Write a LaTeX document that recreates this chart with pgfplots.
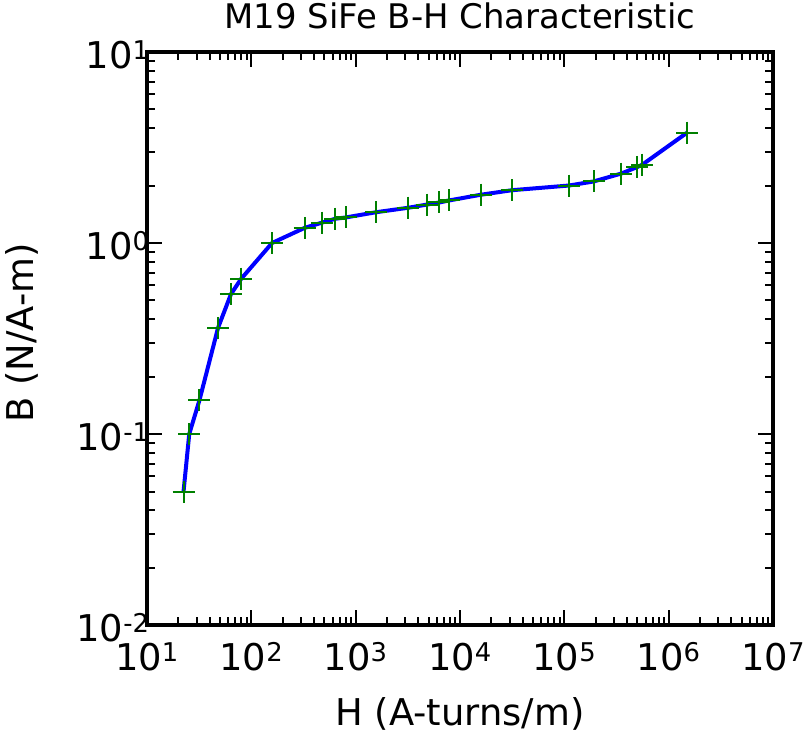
\documentclass[border=0pt]{standalone}
\usepackage{fontspec}
\setmainfont{DejaVu Sans}
\usepackage{pgfplots}
\pgfplotsset{compat=1.18}
\definecolor{mplgreen}{rgb}{0,0.5,0}
\begin{document}
\begin{tikzpicture}
\path[use as bounding box] (0,0) rectangle (804bp,734bp);
\begin{axis}[
  at={(147bp,109bp)}, anchor=south west,
  scale only axis, width=626bp, height=573bp,
  xmode=log, ymode=log,
  xmin=10, xmax=1e7, ymin=0.01, ymax=10,
  axis line style={line width=3.5bp},
  tick align=inside,
  major tick length=15bp, minor tick length=8bp,
  every tick/.style={black, line width=2bp},
  xtick={1e1,1e2,1e3,1e4,1e5,1e6,1e7},
  xticklabels={10\textsuperscript{1},10\textsuperscript{2},10\textsuperscript{3},10\textsuperscript{4},10\textsuperscript{5},10\textsuperscript{6},10\textsuperscript{7}},
  ytick={0.01,0.1,1,10},
  yticklabels={10\textsuperscript{-2},10\textsuperscript{-1},10\textsuperscript{0},10\textsuperscript{1}},
  tick label style={font=\fontsize{37}{40}\selectfont},
  xticklabel style={yshift=-14bp},
  yticklabel style={xshift=6bp, yshift=-3bp},
  label style={font=\fontsize{37}{40}\selectfont},
  xlabel={H (A-turns/m)},
  xlabel style={at={(axis description cs:0.5,-0.155)}, anchor=center},
  ylabel={B (N/A-m)},
  ylabel style={at={(axis description cs:-0.2,0.51)}, anchor=center},
  title={M19 SiFe B-H Characteristic},
  title style={font=\fontsize{34}{40}\selectfont, at={(axis description cs:0.5,1.0)}, anchor=south, yshift=14bp},
]
\addplot[blue, line width=4bp, mark=+, mark size=11bp,
  mark options={mplgreen, line width=2bp}] coordinates {
(22.4,0.05) (25.4,0.1) (31.8,0.15) (48,0.36) (63.8,0.54) (80,0.65)
(158,1.0) (324,1.2) (480,1.28) (639,1.34) (800,1.36) (1578,1.45)
(3205,1.53) (4840,1.59) (6340,1.63) (7850,1.67) (15900,1.79) (31500,1.89)
(111000,2.0) (191000,2.1) (351000,2.31) (501000,2.5) (558000,2.57) (1500000,3.78)
};
\end{axis}
\end{tikzpicture}
\end{document}
